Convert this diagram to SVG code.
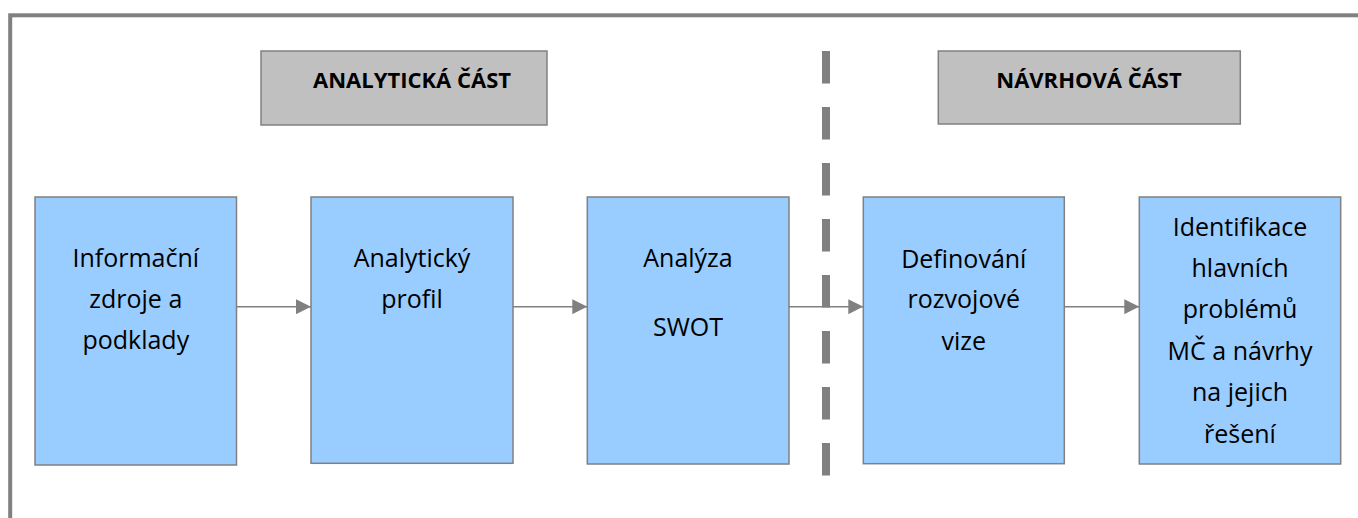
<svg xmlns="http://www.w3.org/2000/svg" width="1358" height="518" viewBox="0 0 1358 518">
<style>
.frame{fill:none;stroke:#808080;stroke-width:4}
.hdr{fill:#c0c0c0;stroke:#808080;stroke-width:1.5}
.box{fill:#99ccff;stroke:#808080;stroke-width:1.5}
.ht{font-family:"Open Sans","Liberation Sans",sans-serif;font-weight:bold;font-size:22px;fill:#000;text-anchor:middle}
.bt{font-family:"Open Sans","Liberation Sans",sans-serif;font-size:25px;fill:#000;text-anchor:middle}
.conn{fill:none;stroke:#808080;stroke-width:1.5}
.div{fill:none;stroke:#808080;stroke-width:8;stroke-dasharray:32.5 23.5}
</style>
<defs>
<marker id="ah" viewBox="0 0 15 15" refX="15" refY="7.5" markerWidth="15" markerHeight="15" markerUnits="userSpaceOnUse" orient="auto">
<path d="M0,0 L15,7.5 L0,15 Z" fill="#808080"/>
</marker>
</defs>
<rect width="1358" height="518" fill="#ffffff"/>
<rect class="frame" x="10.2" y="15.3" width="1400" height="600"/>
<line class="div" x1="826" y1="51" x2="826" y2="476"/>
<g id="hdr-analyticka">
<rect class="hdr" x="261" y="51" width="286" height="74"/>
<text class="ht" x="412" y="88">ANALYTICKÁ ČÁST</text>
</g>
<g id="hdr-navrhova">
<rect class="hdr" x="938.3" y="51" width="302" height="73"/>
<text class="ht" x="1089" y="88">NÁVRHOVÁ ČÁST</text>
</g>
<g id="n1">
<rect class="box" x="35" y="197" width="201.5" height="268"/>
<text class="bt" x="135.8"><tspan x="135.8" y="267.3">Informační</tspan><tspan x="135.8" y="308.3">zdroje a</tspan><tspan x="135.8" y="349.3">podklady</tspan></text>
</g>
<g id="n2">
<rect class="box" x="311" y="197" width="202" height="266.3"/>
<text class="bt"><tspan x="412" y="267.3">Analytický</tspan><tspan x="412" y="308.3">profil</tspan></text>
</g>
<g id="n3">
<rect class="box" x="587.3" y="197" width="201.7" height="267"/>
<text class="bt"><tspan x="688" y="267.3">Analýza</tspan><tspan x="688" y="335.7">SWOT</tspan></text>
</g>
<g id="n4">
<rect class="box" x="863.3" y="197" width="201" height="266.7"/>
<text class="bt"><tspan x="963.8" y="268">Definování</tspan><tspan x="963.8" y="308.3">rozvojové</tspan><tspan x="963.8" y="350">vize</tspan></text>
</g>
<g id="n5">
<rect class="box" x="1139.3" y="197" width="201.4" height="267"/>
<text class="bt"><tspan x="1240" y="235.5">Identifikace</tspan><tspan x="1240" y="277">hlavních</tspan><tspan x="1240" y="318.3">problémů</tspan><tspan x="1240" y="359.7">MČ a návrhy</tspan><tspan x="1240" y="401">na jejich</tspan><tspan x="1240" y="442.5">řešení</tspan></text>
</g>
<g id="connectors">
<line class="conn" x1="236.5" y1="306.7" x2="311" y2="306.7" marker-end="url(#ah)"/>
<line class="conn" x1="513" y1="306.7" x2="587.3" y2="306.7" marker-end="url(#ah)"/>
<line class="conn" x1="789" y1="306.7" x2="863.3" y2="306.7" marker-end="url(#ah)"/>
<line class="conn" x1="1064.3" y1="306.7" x2="1139.3" y2="306.7" marker-end="url(#ah)"/>
</g>
</svg>
